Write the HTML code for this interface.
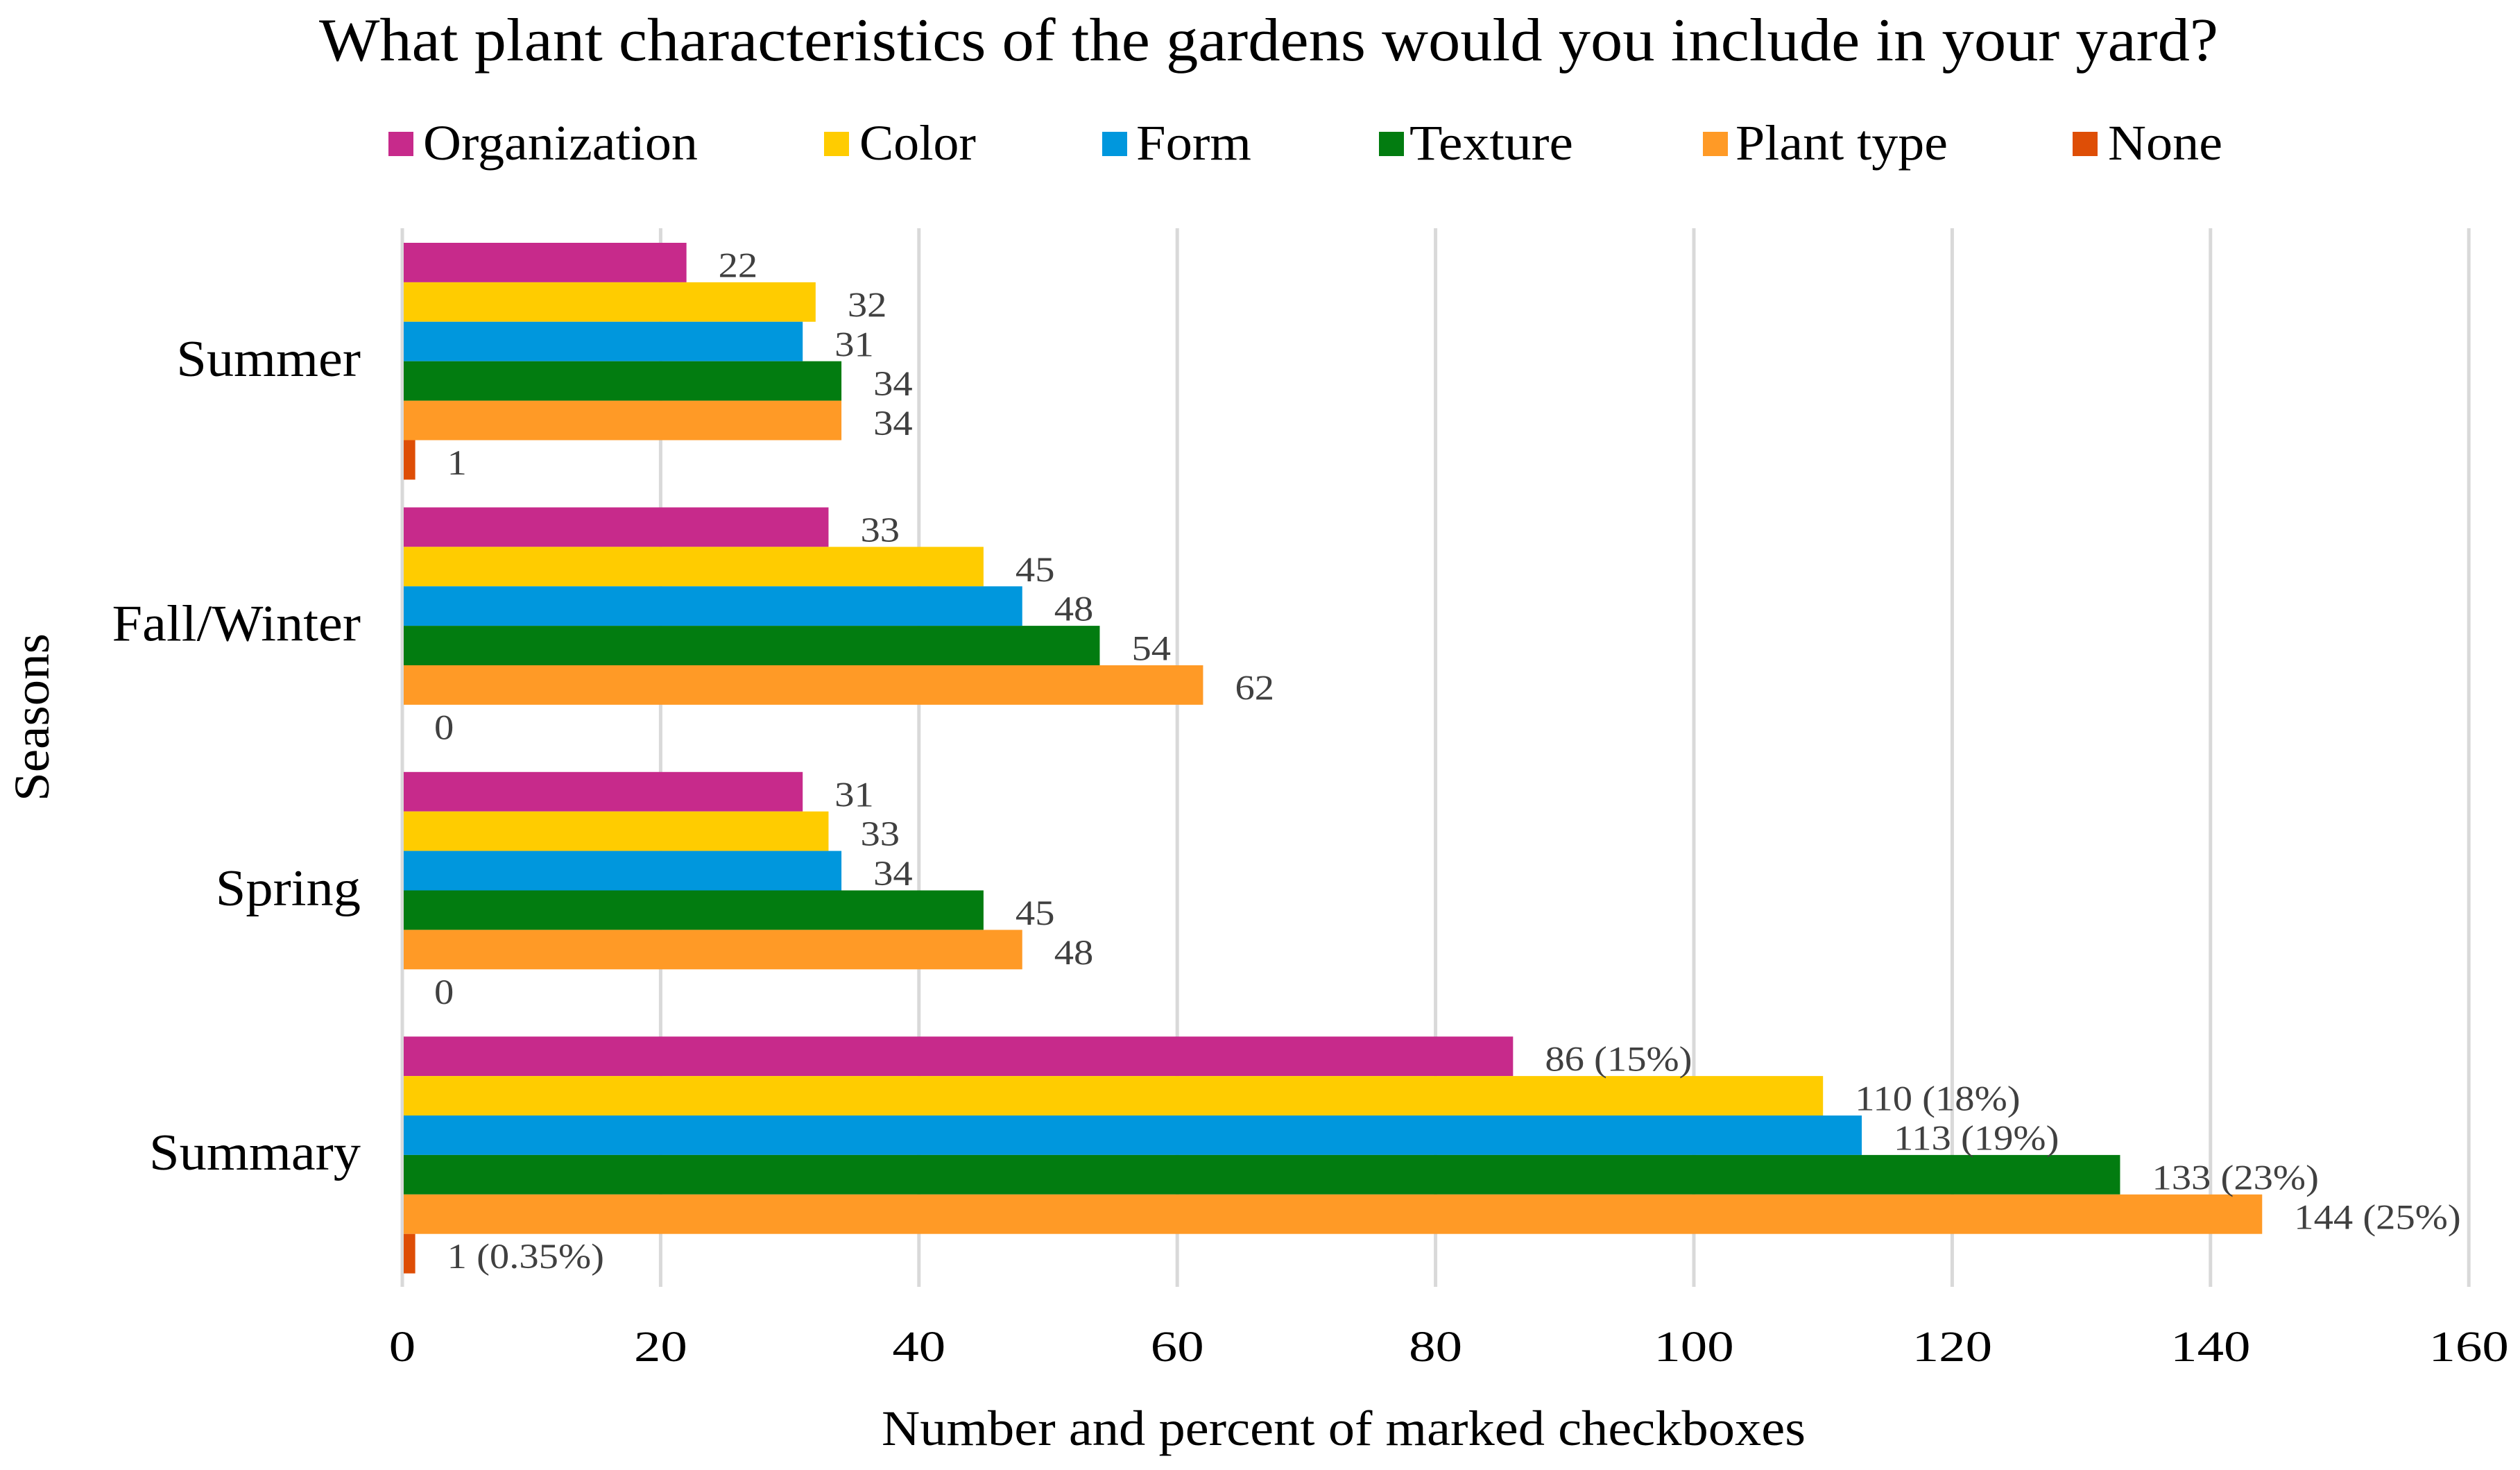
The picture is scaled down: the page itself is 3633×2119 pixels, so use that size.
<!DOCTYPE html>
<html lang="en">
<head>
<meta charset="utf-8">
<title>What plant characteristics of the gardens would you include in your yard?</title>
<style>
html,body{margin:0;padding:0;background:#fff;width:3633px;height:2119px;overflow:hidden}
svg{display:block}
text{font-family:"Liberation Serif","DejaVu Serif",serif}
</style>
</head>
<body>
<svg id="chart" xmlns="http://www.w3.org/2000/svg" width="3633" height="2119" viewBox="0 0 3633 2119">
  <rect x="0" y="0" width="3633" height="2119" fill="#ffffff"/>
  <text x="460" y="87" font-size="88" fill="#000" textLength="2738" lengthAdjust="spacingAndGlyphs">What plant characteristics of the gardens would you include in your yard?</text>
  <g id="legend"></g>
  <g id="grid"></g>
  <g id="bars"></g>
  <g id="labels"></g>
  <g id="cats"></g>
  <g id="ticks"></g>
  <text transform="translate(70 1155) rotate(-90)" font-size="72" fill="#000" textLength="242" lengthAdjust="spacingAndGlyphs">Seasons</text>
  <text x="1271" y="2083" font-size="72" fill="#000" textLength="1332" lengthAdjust="spacingAndGlyphs">Number and percent of marked checkboxes</text>
</svg>
<script>
const categories = ['Summer', 'Fall/Winter', 'Spring', 'Summary'];
const seriesNames = ['Organization', 'Color', 'Form', 'Texture', 'Plant type', 'None'];
const organization = [22, 33, 31, 86];
const color = [32, 45, 33, 110];
const form = [31, 48, 34, 113];
const texture = [34, 54, 45, 133];
const plantType = [34, 62, 48, 144];
const none = [1, 0, 0, 1];
const summaryPercents = ['15%', '18%', '19%', '23%', '25%', '0.35%'];
const xTicks = [0, 20, 40, 60, 80, 100, 120, 140, 160];

const seriesValues = [organization, color, form, texture, plantType, none];
const seriesColors = ['#c72a8b', '#ffcc00', '#0097dd', '#027c10', '#ff9a26', '#de4e06'];
const legendSwatchX = [560, 1188, 1589, 1988, 2455, 2988];
const legendTextX = [610, 1239, 1638, 2032, 2502, 3039];
const legendTextW = [396, 168, 166, 236, 306, 165];

const SVGNS = 'http://www.w3.org/2000/svg';
const plotTop = 329, plotBottom = 1855, firstBarTop = 350, groupPitch = 381.4, barHeight = 56.9;
const xAxis = v => 580 + v * 18.62;
const barY = (c, s) => firstBarTop + c * groupPitch + s * barHeight;

function make(tag, parent, attrs) {
  const e = document.createElementNS(SVGNS, tag);
  for (const k in attrs) e.setAttribute(k, attrs[k]);
  parent.appendChild(e);
  return e;
}
const slug = s => String(s).toLowerCase().replace(/[^a-z0-9]+/g, '-');

const legend = document.getElementById('legend');
seriesNames.forEach((name, i) => {
  const sw = make('rect', legend, {x: legendSwatchX[i], y: 190, width: 36, height: 35, fill: seriesColors[i]});
  
  
  const t = make('text', legend, {x: legendTextX[i], y: 230, 'font-size': 72, fill: '#000', textLength: legendTextW[i], lengthAdjust: 'spacingAndGlyphs'});
  t.textContent = name;
  
  
});

const grid = document.getElementById('grid');
const ticks = document.getElementById('ticks');
xTicks.forEach(v => {
  const line = make('line', grid, {x1: xAxis(v), x2: xAxis(v), y1: plotTop, y2: plotBottom, stroke: '#d9d9d9', 'stroke-width': 5});
  
  
  const t = make('text', ticks, {transform: 'translate(' + xAxis(v) + ' 1962) scale(1.24 1)', 'text-anchor': 'middle', 'font-size': 62, fill: '#000'});
  t.textContent = v;
  
  
});

const bars = document.getElementById('bars');
const labels = document.getElementById('labels');
const cats = document.getElementById('cats');
categories.forEach((cat, c) => {
  const catLabel = make('text', cats, {transform: 'translate(520 ' + (542 + c * groupPitch) + ') scale(1.06 1)', 'text-anchor': 'end', 'font-size': 74, fill: '#000'});
  catLabel.textContent = cat;
  
  
  seriesNames.forEach((name, s) => {
    const v = seriesValues[s][c];
    const y = barY(c, s);
    if (v > 0) {
      const r = make('rect', bars, {x: xAxis(0) + 2, y: y, width: xAxis(v) - xAxis(0) - 2, height: barHeight, fill: seriesColors[s]});
      
      
    }
    const text = cat === 'Summary' ? v + ' (' + summaryPercents[s] + ')' : String(v);
    const t = make('text', labels, {transform: 'translate(' + (xAxis(v) + 46) + ' ' + (y + barHeight / 2 + 21) + ') scale(1.11 1)', 'font-size': 51, fill: '#404040'});
    t.textContent = text;
    
    
  });
});
</script>
</body>
</html>
